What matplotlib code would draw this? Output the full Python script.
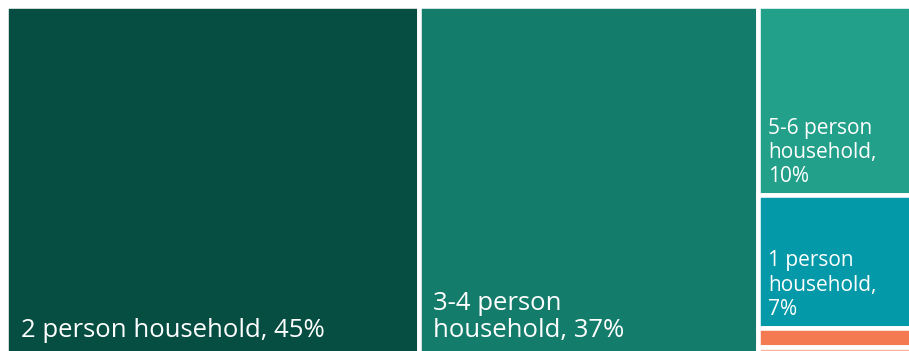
import matplotlib.pyplot as plt
from matplotlib.patches import Rectangle

plt.rcParams['font.family'] = ['Open Sans', 'DejaVu Sans']

# household size shares (last sliver is unlabelled in the picture)
labels = ['2 person household, 45%', '3-4 person\nhousehold, 37%',
          '5-6 person\nhousehold,\n10%', '1 person\nhousehold,\n7%', '', '']
shares = [45, 37, 10, 7, 1, 0.3]
colors = ['#064e42', '#137c6a', '#23a08a', '#0399a8', '#f47b51', '#f9b49a']


def layout(values, n_cols=2):
    # first n_cols values as full height columns, the rest stacked in the last column
    total = sum(values)
    rects = []
    x = 0
    for v in values[:n_cols]:
        w = v / total * 100
        rects.append((x, 0, w, 100))
        x += w
    rest = values[n_cols:]
    w = 100 - x
    y = 100
    for v in rest:
        h = v / sum(rest) * 100
        y -= h
        rects.append((x, y, w, h))
    return rects


fig = plt.figure(figsize=(9.09, 3.51), dpi=100)
ax = fig.add_axes([0, 0, 1, 1])
ax.set_xlim(-0.65, 98.15)
ax.set_ylim(0.5, 101.73)
ax.axis('off')

for i, (x, y, w, h) in enumerate(layout(shares)):
    ax.add_patch(Rectangle((x, y), w, h, facecolor=colors[i],
                           edgecolor='white', linewidth=3.3))
    if not labels[i]:
        continue
    if i < 2:
        size, off, ls = 18.5, (10.5, 7), 1.12
    else:
        size, off, ls = 15, (7, 6), 1.2
    ax.annotate(labels[i], (x, y), xytext=off, textcoords='offset points',
                ha='left', va='bottom', color='white', fontsize=size,
                linespacing=ls, annotation_clip=False)

fig.savefig('out.png', dpi=100)
